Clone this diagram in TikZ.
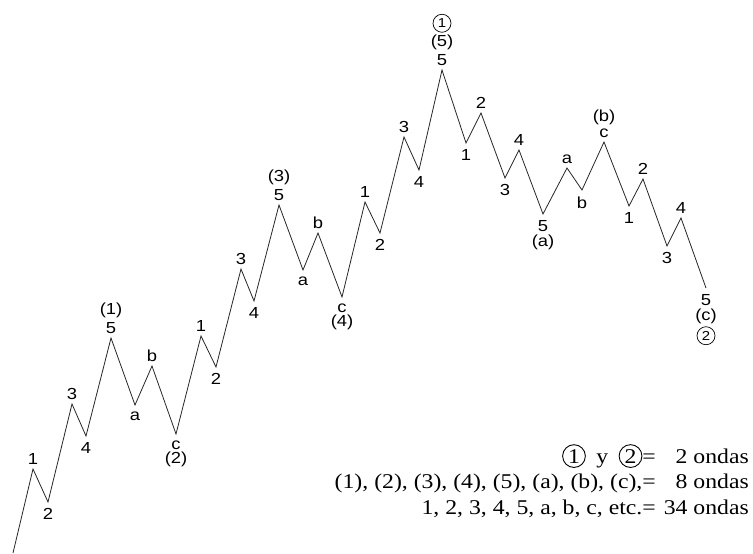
\documentclass[tikz,border=0pt]{standalone}
\usepackage{fontspec}
\setmainfont{Liberation Serif}[FakeStretch=1.13]
\newfontfamily\wavefont{Liberation Sans}[FakeStretch=1.15]
\usepackage{tikz}
\usetikzlibrary{positioning}
\colorlet{waveline}{black!85}

\tikzset{
  wavelbl/.style={font=\wavefont\fontsize{16}{16}\selectfont, inner sep=1pt},
  ringlbl/.style={draw, circle, line width=0.7pt, inner sep=0pt, minimum size=18pt, font=\wavefont\fontsize{13}{13}\selectfont},
}
\newcommand{\ringnum}[1]{\tikz[baseline=(rn#1.base)]\node[draw, circle, line width=0.9pt, inner sep=1.6pt] (rn#1) {#1};}

\begin{document}
\begin{tikzpicture}[x=1pt, y=-1pt]
    \useasboundingbox (0,0) rectangle (753,554);

    % Turning points of the wave
    \foreach \px/\py [count=\i from 0] in {13/553, 33/469, 48/502, 72/404, 86/436, 111/338, 135/405, 152/366, 176/434,
        201/336, 216/367, 241/269, 254/301, 279/205, 303/270, 318/233, 342/297, 365/202, 380/233, 404/137, 419/170,
        442/70, 466/143, 481/113, 505/178, 519/150, 543/214, 567/168, 582/190, 604/142, 629/206, 643/179, 667/246,
        681/218, 706/288}
      \coordinate (w\i) at (\px,\py);

    % The wave line
    \draw[waveline, line width=0.8pt] (w0) \foreach \i in {1,...,34} { -- (w\i) };

    % Labels on the peaks
    \foreach \i/\t in {1/1, 3/3, 7/b, 9/1, 11/3, 15/b, 17/1, 19/3, 23/2, 25/4, 27/a, 31/2, 33/4}
      \node[wavelbl, above=3.5pt of w\i] (t\i) {\t};

    % Labels under the troughs
    \foreach \i/\t in {2/2, 4/4, 6/a, 10/2, 12/4, 14/a, 18/2, 20/4, 22/1, 24/3, 28/b, 30/1, 32/3}
      \node[wavelbl, below=5.5pt of w\i] (t\i) {\t};

    % Stacked labels at the ends of the larger waves
    \node[wavelbl, above=3.5pt of w5] (t5) {5};
    \node[wavelbl, above=1.5pt of t5] (u5) {(1)};

    \node[wavelbl, below=5.5pt of w8] (t8) {c};
    \node[wavelbl, below=0.5pt of t8] (u8) {(2)};

    \node[wavelbl, above=3.5pt of w13] (t13) {5};
    \node[wavelbl, above=1.5pt of t13] (u13) {(3)};

    \node[wavelbl, below=5.5pt of w16] (t16) {c};
    \node[wavelbl, below=0.5pt of t16] (u16) {(4)};

    \node[wavelbl, above=3.5pt of w21] (t21) {5};
    \node[wavelbl, above=1.5pt of t21] (u21) {(5)};
    \node[ringlbl, above=1.5pt of u21] (v21) {1};

    \node[wavelbl, below=5.5pt of w26] (t26) {5};
    \node[wavelbl, below=0.5pt of t26] (u26) {(a)};

    \node[wavelbl, above=3.5pt of w29] (t29) {c};
    \node[wavelbl, above=1.5pt of t29] (u29) {(b)};

    \node[wavelbl, below=5.5pt of w34] (t34) {5};
    \node[wavelbl, below=0.5pt of t34] (u34) {(c)};
    \node[ringlbl, below=1.5pt of u34] (v34) {2};

    % Count of waves
    \node[anchor=north east, inner sep=0pt, font=\fontsize{21}{25.5}\selectfont] (key) at (749,444) {%
      \begin{tabular}{@{}r@{\hspace{8pt}}r@{}}
        \ringnum{1}\enspace y\enspace\ringnum{2}= & 2 ondas\\
        (1), (2), (3), (4), (5), (a), (b), (c),= & 8 ondas\\
        1, 2, 3, 4, 5, a, b, c, etc.= & 34 ondas
      \end{tabular}};
\end{tikzpicture}
\end{document}
